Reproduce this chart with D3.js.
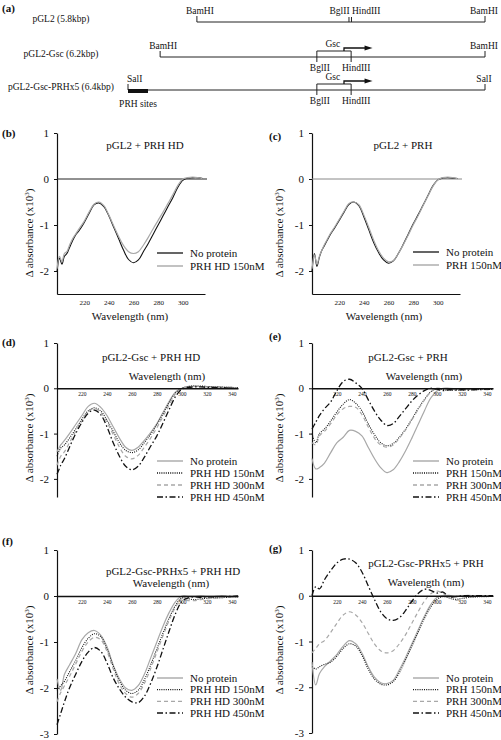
<!DOCTYPE html>
<html><head><meta charset="utf-8">
<script src="https://cdn.jsdelivr.net/npm/d3@7"></script>
<style>
body{margin:0;background:#fff}
svg{display:block}
text{font-family:"Liberation Serif","Times New Roman",serif;fill:#111}
</style>
</head><body>
<svg id="chart" width="501" height="740"></svg>
<script>
// ---------- DATA ----------
// Panel (a) plasmid maps (map units 0-100 along the drawn vector)
const mapNames = ["pGL2 (5.8kbp)", "pGL2-Gsc (6.2kbp)", "pGL2-Gsc-PRHx5 (6.4kbp)"];
const mapStarts = [19.3, 9.0, 0];
const mapEnds = [100, 100, 100];
const mapEndSites = ["BamHI", "BamHI", "SalI"];
const gscInsert = [52.9, 62.5];      // BglII .. HindIII
const gscArrow = [60.5, 68.5];
const prhSites = [0, 5.6];

// Panels (b),(c): wavelengths (nm)
const wlBC = [198,200,202,204,206,208,210,213,216,220,224,228,232,236,240,244,248,252,256,260,264,268,272,276,280,284,288,292,296,300,304,308,312,316];
const bNoProtein = [-2.02,-1.72,-1.85,-1.68,-1.62,-1.5,-1.38,-1.22,-1.12,-0.95,-0.75,-0.56,-0.52,-0.6,-0.8,-1.05,-1.3,-1.55,-1.75,-1.82,-1.76,-1.58,-1.4,-1.2,-1.0,-0.8,-0.6,-0.4,-0.18,-0.03,0.02,0.03,0.03,0.01];
const bPrhHd150 = [-1.95,-1.68,-1.8,-1.62,-1.58,-1.45,-1.33,-1.2,-1.08,-0.92,-0.72,-0.55,-0.5,-0.58,-0.78,-1.02,-1.25,-1.45,-1.58,-1.62,-1.58,-1.44,-1.27,-1.08,-0.9,-0.72,-0.53,-0.34,-0.14,0.0,0.03,0.04,0.03,0.01];
const cNoProtein = [-2.0,-1.62,-1.9,-1.7,-1.55,-1.45,-1.35,-1.2,-1.08,-0.9,-0.72,-0.55,-0.5,-0.58,-0.82,-1.1,-1.38,-1.6,-1.76,-1.83,-1.78,-1.62,-1.42,-1.2,-0.98,-0.78,-0.57,-0.36,-0.15,-0.02,0.02,0.03,0.02,0.01];
const cPrh150 = [-1.95,-1.65,-1.85,-1.68,-1.55,-1.43,-1.33,-1.18,-1.06,-0.88,-0.7,-0.53,-0.5,-0.56,-0.78,-1.05,-1.33,-1.56,-1.72,-1.8,-1.77,-1.62,-1.43,-1.22,-1.0,-0.8,-0.58,-0.37,-0.16,-0.02,0.03,0.04,0.03,0.01];

// Panels (d)-(g): wavelengths (nm)
const wlDG = [200,203,206,210,215,220,225,230,235,240,245,250,255,260,265,270,275,280,285,290,295,300,305,310,315,320,325,330,335,340,345];
const dNoProtein = [-1.4,-1.25,-1.15,-1.0,-0.8,-0.6,-0.4,-0.33,-0.42,-0.6,-0.85,-1.1,-1.3,-1.37,-1.3,-1.15,-0.98,-0.78,-0.53,-0.28,-0.08,0.0,0.04,0.05,0.04,0.04,0.03,0.03,0.02,0.02,0.01];
const dHd150 = [-1.5,-1.32,-1.25,-1.1,-0.9,-0.68,-0.5,-0.43,-0.5,-0.7,-0.95,-1.2,-1.37,-1.42,-1.36,-1.2,-1.02,-0.8,-0.56,-0.31,-0.1,0.0,0.04,0.05,0.05,0.04,0.03,0.03,0.02,0.02,0.01];
const dHd300 = [-1.7,-1.5,-1.4,-1.2,-0.95,-0.72,-0.52,-0.45,-0.53,-0.75,-1.02,-1.3,-1.5,-1.56,-1.48,-1.3,-1.1,-0.87,-0.62,-0.36,-0.12,0.0,0.03,0.04,0.04,0.03,0.03,0.02,0.02,0.01,0.01];
const dHd450 = [-1.9,-1.7,-1.55,-1.3,-1.0,-0.75,-0.55,-0.48,-0.58,-0.85,-1.2,-1.5,-1.72,-1.8,-1.72,-1.52,-1.28,-1.05,-0.76,-0.46,-0.18,-0.02,0.02,0.03,0.03,0.02,0.02,0.01,0.01,0.0,0.0];

const eNoProtein = [-1.55,-1.78,-1.75,-1.65,-1.42,-1.2,-1.08,-0.93,-0.95,-1.05,-1.3,-1.55,-1.75,-1.86,-1.8,-1.62,-1.38,-1.1,-0.8,-0.5,-0.22,-0.06,0.0,0.0,-0.01,-0.02,-0.02,-0.02,-0.01,-0.01,-0.01];
const ePrh150 = [-1.0,-1.2,-1.0,-0.9,-0.72,-0.52,-0.35,-0.25,-0.33,-0.5,-0.78,-1.02,-1.2,-1.27,-1.22,-1.08,-0.9,-0.68,-0.45,-0.25,-0.08,0.0,-0.03,-0.05,-0.03,-0.05,-0.02,-0.04,-0.02,-0.03,-0.02];
const ePrh300 = [-1.2,-1.25,-1.05,-0.95,-0.78,-0.58,-0.45,-0.4,-0.42,-0.58,-0.85,-1.1,-1.25,-1.3,-1.25,-1.1,-0.92,-0.7,-0.47,-0.26,-0.09,0.0,-0.02,-0.03,-0.02,-0.03,-0.02,-0.02,-0.01,-0.02,-0.01];
const ePrh450 = [-0.9,-0.75,-0.6,-0.45,-0.3,-0.05,0.15,0.2,0.12,0.0,-0.25,-0.5,-0.7,-0.82,-0.78,-0.62,-0.45,-0.28,-0.15,-0.05,0.0,-0.02,-0.05,-0.03,-0.04,-0.03,-0.04,-0.03,-0.03,-0.02,-0.03];

const fNoProtein = [-1.8,-2.05,-1.7,-1.5,-1.25,-0.95,-0.8,-0.75,-0.85,-1.1,-1.5,-1.8,-2.0,-2.05,-1.95,-1.7,-1.35,-1.0,-0.65,-0.35,-0.12,0.0,0.0,0.0,0.01,0.0,0.0,0.01,0.0,0.0,0.0];
const fHd150 = [-2.05,-1.95,-1.85,-1.65,-1.4,-1.12,-0.92,-0.82,-0.88,-1.15,-1.52,-1.85,-2.05,-2.12,-2.05,-1.82,-1.5,-1.15,-0.8,-0.47,-0.2,-0.04,-0.06,-0.08,-0.06,-0.05,-0.04,-0.04,-0.03,-0.02,-0.02];
const fHd300 = [-2.3,-2.1,-1.95,-1.75,-1.48,-1.2,-1.0,-0.9,-0.95,-1.2,-1.58,-1.92,-2.12,-2.2,-2.12,-1.9,-1.58,-1.22,-0.86,-0.52,-0.24,-0.06,-0.1,-0.1,-0.08,-0.06,-0.05,-0.04,-0.03,-0.02,-0.02];
const fHd450 = [-2.8,-2.55,-2.3,-2.0,-1.7,-1.42,-1.22,-1.12,-1.2,-1.45,-1.78,-2.02,-2.2,-2.3,-2.32,-2.18,-1.9,-1.55,-1.15,-0.75,-0.38,-0.12,-0.04,-0.02,-0.03,-0.02,-0.02,-0.01,-0.01,-0.01,0.0];

const gNoProtein = [-1.45,-1.95,-1.7,-1.55,-1.42,-1.28,-1.1,-0.98,-1.05,-1.25,-1.55,-1.78,-1.9,-1.92,-1.85,-1.62,-1.35,-1.05,-0.75,-0.45,-0.2,-0.04,0.0,0.01,-0.02,0.0,0.01,0.0,0.0,0.0,0.0];
const gPrh150 = [-1.55,-1.6,-1.55,-1.5,-1.45,-1.32,-1.15,-1.05,-1.1,-1.3,-1.6,-1.82,-1.93,-1.95,-1.88,-1.68,-1.4,-1.1,-0.8,-0.5,-0.25,-0.08,-0.02,-0.05,-0.08,-0.06,-0.04,-0.03,-0.02,-0.02,-0.01];
const gPrh300 = [-1.25,-1.15,-1.05,-0.98,-0.8,-0.6,-0.42,-0.35,-0.42,-0.58,-0.82,-1.05,-1.2,-1.25,-1.2,-1.05,-0.85,-0.6,-0.35,-0.12,0.04,0.1,0.05,-0.04,-0.1,-0.06,-0.03,-0.02,-0.01,-0.01,0.0];
const gPrh450 = [0.0,0.2,0.15,0.35,0.55,0.72,0.8,0.8,0.72,0.52,0.22,-0.08,-0.35,-0.5,-0.54,-0.48,-0.32,-0.12,0.05,0.14,0.12,0.06,0.08,-0.03,-0.02,0.0,0.0,0.0,0.0,0.0,0.0];

const xTicksBC = [220,240,260,280,300];
const xTicksDG = [220,240,260,280,300,320,340];
const yTicks3 = [1,0,-1,-2];
const yTicks4 = [1,0,-1,-2,-3];
const legendHD2 = ["No protein","PRH HD 150nM"];
const legendPRH2 = ["No protein","PRH 150nM"];
const legendHD4 = ["No protein","PRH HD 150nM","PRH HD 300nM","PRH HD 450nM"];
const legendPRH4 = ["No protein","PRH 150nM","PRH 300nM","PRH 450nM"];

// ---------- STYLES ----------
const ST = {
  black:   {stroke:"#111", w:1.1, dash:null},
  gray:    {stroke:"#a8a8a8", w:1.2, dash:null},
  dotted:  {stroke:"#111", w:1.1, dash:"1,1.2"},
  dashed:  {stroke:"#a8a8a8", w:1.2, dash:"4,3"},
  dashdot: {stroke:"#111", w:1.3, dash:"6,2.5,1.5,2.5"}
};

const svg = d3.select("#chart");
svg.append("rect").attr("width",501).attr("height",740).attr("fill","#fff");

// ---------- PANEL (a) ----------
(function(){
  const mx = d3.scaleLinear().domain([0,100]).range([128,485]);
  const rowY = [22, 57, 90];
  const g = svg.append("g");
  g.append("text").attr("x",2).attr("y",12).attr("font-size",11).attr("font-weight","bold").text("(a)");
  mapNames.forEach((nm,i)=>{
    const y = rowY[i];
    g.append("text").attr("x",61).attr("y",y-0.5).attr("text-anchor","middle").attr("font-size",9.5).text(nm);
    const x0 = mx(mapStarts[i]), x1 = mx(mapEnds[i]);
    g.append("line").attr("x1",x0).attr("x2",x1).attr("y1",y).attr("y2",y).attr("stroke","#222").attr("stroke-width",1);
    [x0,x1].forEach(xx=>g.append("line").attr("x1",xx).attr("x2",xx).attr("y1",y-6).attr("y2",y).attr("stroke","#222").attr("stroke-width",1));
    g.append("text").attr("x",i===2? x0-1 : x0+3).attr("y",y-8).attr("text-anchor",i===2?"start":"middle").attr("font-size",9.5).text(mapEndSites[i]);
    g.append("text").attr("x",x1-1).attr("y",y-8).attr("text-anchor","middle").attr("font-size",9.5).text(mapEndSites[i]);
    if(i===0){
      [gscInsert[0]+9.0, gscInsert[0]+9.7].forEach(v=>g.append("line").attr("x1",mx(v)).attr("x2",mx(v)).attr("y1",y-5).attr("y2",y).attr("stroke","#222"));
      g.append("text").attr("x",355).attr("y",y-8).attr("text-anchor","middle").attr("font-size",9.5).text("BglII HindIII");
    } else {
      const a = mx(gscInsert[0]), b = mx(gscInsert[1]);
      const top = y-6;
      g.append("path").attr("d",`M${a},${y+5}V${top}H${b}V${y+5}`).attr("fill","none").attr("stroke","#222");
      g.append("text").attr("x",a+16).attr("y",top-4).attr("text-anchor","middle").attr("font-size",9.5).text("Gsc");
      const ax = mx(gscArrow[0]), ae = mx(gscArrow[1]);
      g.append("path").attr("d",`M${ax},${top}V${top-3}H${ae-7}`).attr("fill","none").attr("stroke","#111").attr("stroke-width",1.3);
      g.append("path").attr("d",`M${ae-8},${top-5.5}L${ae},${top-3}L${ae-8},${top-0.5}Z`).attr("fill","#111");
      g.append("text").attr("x",a+3).attr("y",y+13.5).attr("text-anchor","middle").attr("font-size",9.5).text("BglII");
      g.append("text").attr("x",b+5).attr("y",y+13.5).attr("text-anchor","middle").attr("font-size",9.5).text("HindIII");
    }
    if(i===2){
      g.append("rect").attr("x",mx(prhSites[0])).attr("y",y-1).attr("width",mx(prhSites[1])-mx(prhSites[0])).attr("height",4).attr("fill","#111");
      g.append("text").attr("x",(mx(prhSites[0])+mx(prhSites[1]))/2).attr("y",y+17).attr("text-anchor","middle").attr("font-size",9.5).text("PRH sites");
    }
  });
})();

// ---------- CD PANELS ----------
function drawPanel(p){
  const g = svg.append("g");
  const x = d3.scaleLinear().domain(p.xd).range(p.xr);
  const y = d3.scaleLinear().domain(p.yd).range(p.yr);

  g.append("text").attr("x",p.lab[0]).attr("y",p.lab[1]).attr("font-size",11).attr("font-weight","bold").text(p.label);

  const ya = g.append("g").attr("transform",`translate(${p.xr[0]},0)`)
    .call(d3.axisLeft(y).tickValues(p.yTicks).tickSize(3).tickSizeOuter(0).tickPadding(5).tickFormat(d=>String(d)));
  ya.select(".domain").attr("stroke","#111").attr("stroke-width",1.2);
  ya.selectAll(".tick line").attr("stroke","#111");
  ya.selectAll(".tick text").attr("font-family","Liberation Serif, serif").attr("font-size",11).attr("fill","#111");

  const yl = g.append("text").attr("transform",`translate(${p.ylab[0]},${p.ylab[1]}) rotate(-90)`)
    .attr("text-anchor","middle").attr("font-size",11);
  yl.append("tspan").text("\u0394 absorbance (x10");
  yl.append("tspan").attr("font-size",7).attr("dy",-4).text("3");
  yl.append("tspan").attr("dy",4).text(")");

  if(p.bottomAxis){
    const xa = g.append("g").attr("transform",`translate(0,${p.yr[0]})`)
      .call(d3.axisBottom(x).tickValues(p.xTicks).tickSize(0).tickSizeOuter(0).tickPadding(6));
    xa.select(".domain").attr("stroke","#111").attr("stroke-width",1);
    xa.selectAll(".tick text").attr("font-family","Liberation Serif, serif").attr("font-size",7).attr("fill","#555");
    g.append("line").attr("x1",p.xr[0]).attr("x2",p.xr[1]+2).attr("y1",y(0)).attr("y2",y(0))
      .attr("stroke",p.zeroColor).attr("stroke-width",1);
  }
  g.append("text").attr("x",p.wl[0]).attr("y",p.wl[1]).attr("text-anchor","middle").attr("font-size",11).text("Wavelength (nm)");
  g.append("text").attr("x",p.title[0]).attr("y",p.title[1]).attr("text-anchor","middle").attr("font-size",11).text(p.titleText);

  const line = d3.line().x((d,i)=>x(p.wlArr[i])).y(d=>y(d)).curve(d3.curveCatmullRom.alpha(0.5));
  p.series.forEach(s=>{
    const st = ST[s.style];
    g.append("path").datum(s.values).attr("d",line).attr("fill","none")
      .attr("stroke",st.stroke).attr("stroke-width",st.w).attr("stroke-dasharray",st.dash)
      .attr("stroke-linejoin","round");
  });

  if(!p.bottomAxis){
    const xa = g.append("g").attr("transform",`translate(0,${y(0)})`)
      .call(d3.axisBottom(x).tickValues(p.xTicks).tickSize(0).tickSizeOuter(0).tickPadding(4));
    xa.select(".domain").attr("stroke","#111").attr("stroke-width",1.6);
    xa.selectAll(".tick text").attr("font-family","Liberation Serif, serif").attr("font-size",5.5).attr("fill","#666");
  }

  p.series.forEach((s,i)=>{
    const st = ST[s.style];
    const ly = p.leg[1] + i*p.leg[2];
    g.append("line").attr("x1",p.leg[0]).attr("x2",p.leg[0]+26).attr("y1",ly).attr("y2",ly)
      .attr("stroke",st.stroke).attr("stroke-width",st.w+0.2).attr("stroke-dasharray",st.dash);
    g.append("text").attr("x",p.leg[0]+33).attr("y",ly+3.5).attr("font-size",11).text(p.legendNames[i]);
  });
}

const panels = [
  {label:"(b)", lab:[2,137], xd:[198,318], xr:[57,205], yd:[-2.5,1], yr:[294,133], yTicks:yTicks3,
   xTicks:xTicksBC, bottomAxis:true, zeroColor:"#222", wl:[130,320], title:[145,149], titleText:"pGL2 + PRH HD",
   ylab:[33,233], wlArr:wlBC, leg:[157,253,13], legendNames:legendHD2,
   series:[{values:bNoProtein,style:"black"},{values:bPrhHd150,style:"gray"}]},
  {label:"(c)", lab:[269,140], xd:[198,318], xr:[312,460], yd:[-2.5,1], yr:[294,133], yTicks:yTicks3,
   xTicks:xTicksBC, bottomAxis:true, zeroColor:"#888", wl:[384,320], title:[403,149], titleText:"pGL2 + PRH",
   ylab:[283,233], wlArr:wlBC, leg:[413,252,13], legendNames:legendPRH2,
   series:[{values:cNoProtein,style:"black"},{values:cPrh150,style:"gray"}]},
  {label:"(d)", lab:[2,346], xd:[200,345], xr:[57,238], yd:[-2.4,1], yr:[497,343], yTicks:yTicks3,
   xTicks:xTicksDG, bottomAxis:false, wl:[167,380], title:[151,361], titleText:"pGL2-Gsc + PRH HD",
   ylab:[33,438], wlArr:wlDG, leg:[157,461,12], legendNames:legendHD4,
   series:[{values:dNoProtein,style:"gray"},{values:dHd150,style:"dotted"},{values:dHd300,style:"dashed"},{values:dHd450,style:"dashdot"}]},
  {label:"(e)", lab:[269,340], xd:[200,345], xr:[312,493], yd:[-2.4,1], yr:[497,343], yTicks:yTicks3,
   xTicks:xTicksDG, bottomAxis:false, wl:[424,380], title:[408,361], titleText:"pGL2-Gsc + PRH",
   ylab:[283,438], wlArr:wlDG, leg:[413,461,12], legendNames:legendPRH4,
   series:[{values:eNoProtein,style:"gray"},{values:ePrh150,style:"dotted"},{values:ePrh300,style:"dashed"},{values:ePrh450,style:"dashdot"}]},
  {label:"(f)", lab:[2,545], xd:[200,345], xr:[57,238], yd:[-3,1], yr:[734,550], yTicks:yTicks4,
   xTicks:xTicksDG, bottomAxis:false, wl:[171,587], title:[173,575], titleText:"pGL2-Gsc-PRHx5 + PRH HD",
   ylab:[33,650], wlArr:wlDG, leg:[157,678,11.7], legendNames:legendHD4,
   series:[{values:fNoProtein,style:"gray"},{values:fHd150,style:"dotted"},{values:fHd300,style:"dashed"},{values:fHd450,style:"dashdot"}]},
  {label:"(g)", lab:[269,552], xd:[200,345], xr:[312,493], yd:[-3,1], yr:[733,550], yTicks:yTicks4,
   xTicks:xTicksDG, bottomAxis:false, wl:[426,586], title:[426,567], titleText:"pGL2-Gsc-PRHx5 + PRH",
   ylab:[283,650], wlArr:wlDG, leg:[413,678,11.7], legendNames:legendPRH4,
   series:[{values:gNoProtein,style:"gray"},{values:gPrh150,style:"dotted"},{values:gPrh300,style:"dashed"},{values:gPrh450,style:"dashdot"}]}
];
panels.forEach(drawPanel);
</script>
</body></html>
